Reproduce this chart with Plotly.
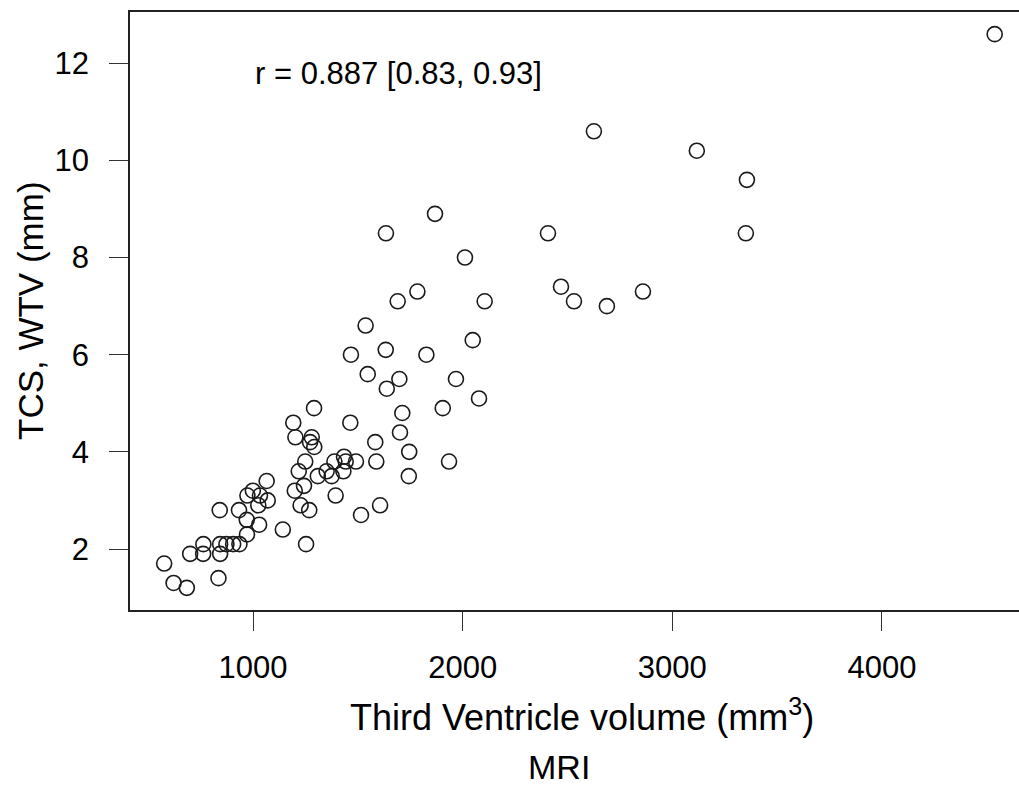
import plotly.graph_objects as go

# Third ventricle volume (MRI, mm^3)
mri_volume = [
    4538, 2626, 3117, 3356, 3351, 2407, 2469, 2531, 2688, 2860,
    1868, 1634, 2011, 1784, 1690, 2105, 1537, 1467, 1633, 1827,
    2048, 1547, 1698, 1968, 1638, 2078, 1905, 1291, 1192, 1464,
    1712, 1701, 1202, 1280, 1272, 1292, 1583, 1745, 1935, 1588,
    1743, 1249, 1218, 1388, 1434, 1442, 1491, 1351, 1309, 1375,
    1431, 1243, 1199, 1394, 1227, 1268, 1515, 1606, 1253, 1142,
    1065, 999, 973, 1033, 1070, 1025, 933, 841, 970, 1029,
    971, 763, 843, 873, 905, 935, 700, 762, 843, 576,
    621, 684, 835,
]
# TCS, WTV (mm)
tcs_wtv = [
    12.6, 10.6, 10.2, 9.6, 8.5, 8.5, 7.4, 7.1, 7.0, 7.3,
    8.9, 8.5, 8.0, 7.3, 7.1, 7.1, 6.6, 6.0, 6.1, 6.0,
    6.3, 5.6, 5.5, 5.5, 5.3, 5.1, 4.9, 4.9, 4.6, 4.6,
    4.8, 4.4, 4.3, 4.3, 4.2, 4.1, 4.2, 4.0, 3.8, 3.8,
    3.5, 3.8, 3.6, 3.8, 3.9, 3.8, 3.8, 3.6, 3.5, 3.5,
    3.6, 3.3, 3.2, 3.1, 2.9, 2.8, 2.7, 2.9, 2.1, 2.4,
    3.4, 3.2, 3.1, 3.1, 3.0, 2.9, 2.8, 2.8, 2.6, 2.5,
    2.3, 2.1, 2.1, 2.1, 2.1, 2.1, 1.9, 1.9, 1.9, 1.7,
    1.3, 1.2, 1.4,
]

x_ticks = [1000, 2000, 3000, 4000]
y_ticks = [2, 4, 6, 8, 10, 12]
corr_text = "r = 0.887 [0.83, 0.93]"

FONT = "Liberation Sans, Arial, sans-serif"

fig = go.Figure()
fig.add_trace(go.Scatter(
    x=mri_volume, y=tcs_wtv, mode="markers",
    marker=dict(symbol="circle-open", size=15, color="#1a1a1a",
                line=dict(width=1.6, color="#1a1a1a")),
    showlegend=False, hoverinfo="x+y",
))

fig.add_annotation(x=1000, y=11.8, xref="x", yref="y", text=corr_text,
                   showarrow=False, xanchor="left", yanchor="middle",
                   font=dict(family=FONT, size=31, color="black"))

fig.add_annotation(x=(582 - 130) / 889, y=-(715 - 610) / 598, xref="paper", yref="paper",
                   text="Third Ventricle volume (mm<sup>3</sup>)", showarrow=False,
                   xanchor="center", yanchor="middle",
                   font=dict(family=FONT, size=36, color="black"))
fig.add_annotation(x=(559 - 130) / 889, y=-(767 - 610) / 598, xref="paper", yref="paper",
                   text="MRI", showarrow=False, xanchor="center", yanchor="middle",
                   font=dict(family=FONT, size=34, color="black"))
fig.add_annotation(x=-(130 - 30) / 889, y=0.5, xref="paper", yref="paper",
                   text="TCS, WTV (mm)", showarrow=False, textangle=-90,
                   xanchor="center", yanchor="middle",
                   font=dict(family=FONT, size=35, color="black"))

fig.update_xaxes(range=[413, 4654], tickvals=x_ticks, ticktext=[str(v) for v in x_ticks],
                 showgrid=False, zeroline=False, showline=True, linecolor="#222",
                 linewidth=1.6, mirror=True, ticks="outside", ticklen=19, tickwidth=1.3,
                 tickcolor="#333", ticklabelstandoff=10,
                 tickfont=dict(family=FONT, size=31, color="black"))
fig.update_yaxes(range=[0.744, 13.056], tickvals=y_ticks, ticktext=[str(v) for v in y_ticks],
                 showgrid=False, zeroline=False, showline=True, linecolor="#222",
                 linewidth=1.6, mirror=False, ticks="outside", ticklen=19, tickwidth=1.3,
                 tickcolor="#333", ticklabelstandoff=14,
                 tickfont=dict(family=FONT, size=31, color="black"))

fig.update_layout(width=1019, height=789, margin=dict(l=130, r=0, t=12, b=179),
                  paper_bgcolor="white", plot_bgcolor="white")

fig.write_html("out.html")
